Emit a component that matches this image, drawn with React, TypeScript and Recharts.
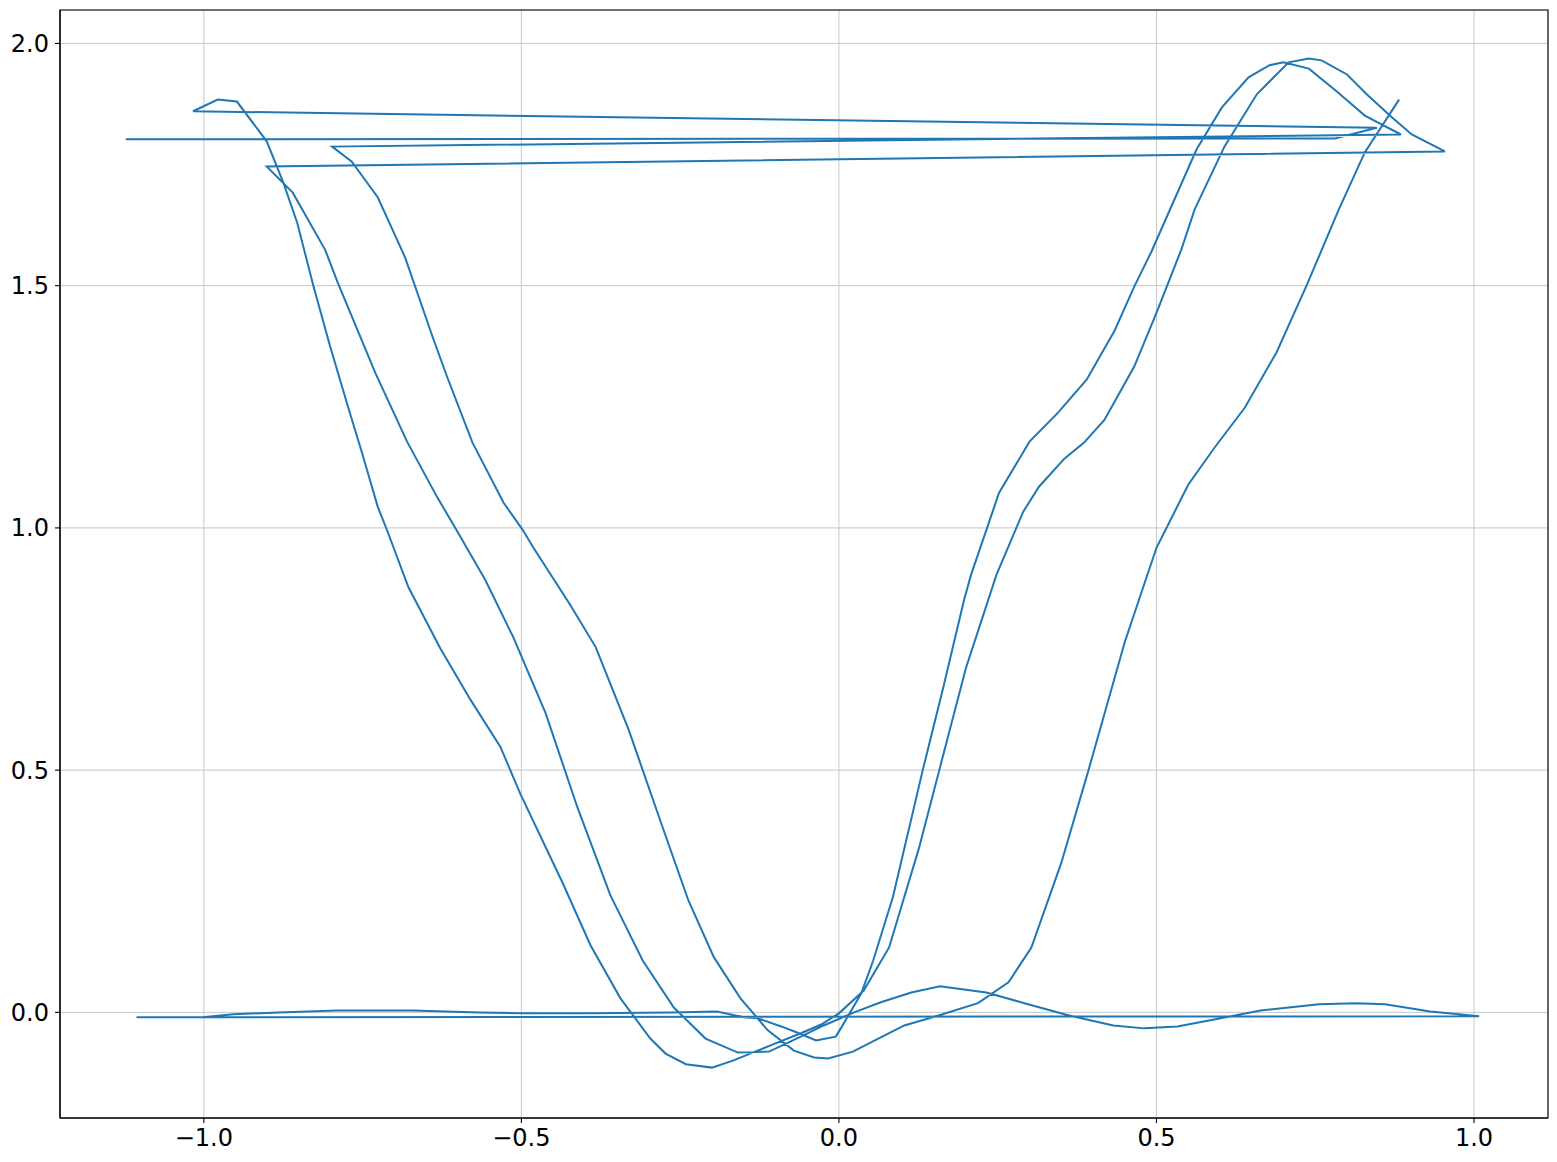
import React from 'react';
import { LineChart, Line, XAxis, YAxis, CartesianGrid, ReferenceArea } from 'recharts';

// Sweep 0: flat top profile
const sweep0X = [-1.123, 0.781, 0.847];
const sweep0Y = [1.802, 1.804, 1.826];

// Sweep 1: steep left arm, deepest trough, right arm with bump
const sweep1X = [-1.017, -0.978, -0.948, -0.901, -0.875, -0.853, -0.828, -0.801, -0.773, -0.751, -0.726, -0.71, -0.678, -0.628, -0.58, -0.533, -0.502, -0.435, -0.391, -0.344, -0.297, -0.273, -0.241, -0.2, -0.166, -0.128, -0.096, -0.06, -0.028, 0.0, 0.039, 0.079, 0.126, 0.158, 0.2, 0.248, 0.29, 0.315, 0.355, 0.386, 0.418, 0.465, 0.5, 0.539, 0.56, 0.607, 0.658, 0.708, 0.74, 0.76, 0.8, 0.831, 0.871, 0.902, 0.954];
const sweep1Y = [1.86, 1.884, 1.88, 1.798, 1.713, 1.63, 1.502, 1.374, 1.25, 1.155, 1.043, 0.99, 0.878, 0.752, 0.645, 0.548, 0.452, 0.267, 0.138, 0.029, -0.054, -0.085, -0.107, -0.114, -0.099, -0.079, -0.062, -0.043, -0.025, -0.002, 0.045, 0.134, 0.339, 0.5, 0.711, 0.903, 1.033, 1.085, 1.143, 1.176, 1.223, 1.333, 1.444, 1.574, 1.657, 1.787, 1.895, 1.961, 1.969, 1.965, 1.936, 1.895, 1.847, 1.812, 1.777];

// Sweep 2: left arm, trough, small ripples on the right
const sweep2X = [-0.901, -0.86, -0.809, -0.789, -0.73, -0.68, -0.632, -0.604, -0.557, -0.513, -0.462, -0.412, -0.36, -0.309, -0.26, -0.21, -0.159, -0.11, -0.06, -0.024, 0.024, 0.066, 0.114, 0.159, 0.232, 0.292, 0.361, 0.432, 0.481, 0.533, 0.601, 0.664, 0.756, 0.815, 0.86, 0.931, 1.008];
const sweep2Y = [1.746, 1.692, 1.574, 1.506, 1.32, 1.178, 1.062, 1.0, 0.893, 0.775, 0.618, 0.424, 0.242, 0.107, 0.01, -0.054, -0.083, -0.081, -0.05, -0.027, 0.0, 0.021, 0.041, 0.054, 0.041, 0.019, -0.006, -0.027, -0.033, -0.029, -0.012, 0.004, 0.017, 0.019, 0.017, 0.002, -0.008];

// Sweep 3: flat left part, dip, steep right arm with bump
const sweep3X = [-1.106, -1.002, -0.953, -0.882, -0.79, -0.672, -0.566, -0.5, -0.39, -0.263, -0.192, -0.15, -0.128, -0.091, -0.063, -0.036, -0.005, 0.003, 0.035, 0.054, 0.085, 0.132, 0.164, 0.197, 0.208, 0.252, 0.3, 0.345, 0.39, 0.434, 0.465, 0.492, 0.563, 0.603, 0.645, 0.678, 0.7, 0.74, 0.784, 0.828, 0.885];
const sweep3Y = [-0.01, -0.01, -0.004, 0.0, 0.004, 0.004, 0.0, -0.002, -0.002, 0.0, 0.002, -0.01, -0.012, -0.029, -0.043, -0.058, -0.05, -0.033, 0.039, 0.107, 0.238, 0.5, 0.669, 0.851, 0.903, 1.072, 1.178, 1.238, 1.306, 1.407, 1.498, 1.57, 1.781, 1.868, 1.93, 1.955, 1.961, 1.948, 1.901, 1.851, 1.812];

// Sweep 4: left arm, trough, rightmost rising arm
const sweep4X = [-0.798, -0.767, -0.726, -0.683, -0.64, -0.617, -0.577, -0.528, -0.498, -0.481, -0.423, -0.383, -0.331, -0.276, -0.237, -0.197, -0.155, -0.112, -0.071, -0.039, -0.017, 0.022, 0.062, 0.103, 0.158, 0.219, 0.267, 0.303, 0.35, 0.393, 0.45, 0.5, 0.55, 0.591, 0.639, 0.689, 0.737, 0.787, 0.828, 0.882];
const sweep4Y = [1.787, 1.756, 1.682, 1.558, 1.395, 1.312, 1.176, 1.052, 0.996, 0.959, 0.841, 0.754, 0.583, 0.376, 0.231, 0.114, 0.029, -0.037, -0.079, -0.093, -0.095, -0.081, -0.054, -0.027, -0.006, 0.019, 0.062, 0.134, 0.308, 0.5, 0.764, 0.959, 1.089, 1.165, 1.248, 1.362, 1.502, 1.657, 1.775, 1.884];

const xTicks = [-1.0, -0.5, 0.0, 0.5, 1.0];
const yTicks = [0.0, 0.5, 1.0, 1.5, 2.0];

const xDomain: [number, number] = [-1.2265, 1.1165];
const yDomain: [number, number] = [-0.218, 2.069];

const allX = [...sweep0X, ...sweep1X, ...sweep2X, ...sweep3X, ...sweep4X];
const allY = [...sweep0Y, ...sweep1Y, ...sweep2Y, ...sweep3Y, ...sweep4Y];
const data = allX.map((x, i) => ({ x, y: allY[i] }));

const fmt = (v: number) => (v < 0 ? '\u2212' : '') + Math.abs(v).toFixed(1);

const tickStyle = { fontFamily: 'DejaVu Sans', fontSize: 24, fill: '#000' };

export default function App() {
  return (
    <div style={{ position: 'absolute', left: 0, top: 0, background: '#fff' }}>
      <LineChart
        width={1557}
        height={1162}
        data={data}
        margin={{ top: 10, right: 9, bottom: 0, left: 0 }}
      >
        <CartesianGrid stroke="#c8c8c8" strokeWidth={1} />
        <XAxis
          dataKey="x"
          type="number"
          domain={xDomain}
          ticks={xTicks}
          allowDataOverflow
          tickFormatter={fmt}
          height={44}
          tickSize={5}
          tickMargin={6}
          axisLine={{ stroke: '#000', strokeWidth: 1.1 }}
          tickLine={{ stroke: '#000', strokeWidth: 1.1 }}
          tick={tickStyle}
          interval={0}
        />
        <YAxis
          type="number"
          domain={yDomain}
          ticks={yTicks}
          allowDataOverflow
          tickFormatter={fmt}
          width={60}
          tickSize={5}
          tickMargin={6}
          axisLine={{ stroke: '#000', strokeWidth: 1.1 }}
          tickLine={{ stroke: '#000', strokeWidth: 1.1 }}
          tick={tickStyle}
          interval={0}
        />
        <Line
          type="linear"
          dataKey="y"
          stroke="#1f77b4"
          strokeWidth={2}
          dot={false}
          activeDot={false}
          isAnimationActive={false}
        />
        <ReferenceArea
          x1={xDomain[0]}
          x2={xDomain[1]}
          y1={yDomain[0]}
          y2={yDomain[1]}
          fill="none"
          fillOpacity={0}
          stroke="#000"
          strokeWidth={1.1}
          ifOverflow="visible"
        />
      </LineChart>
    </div>
  );
}
